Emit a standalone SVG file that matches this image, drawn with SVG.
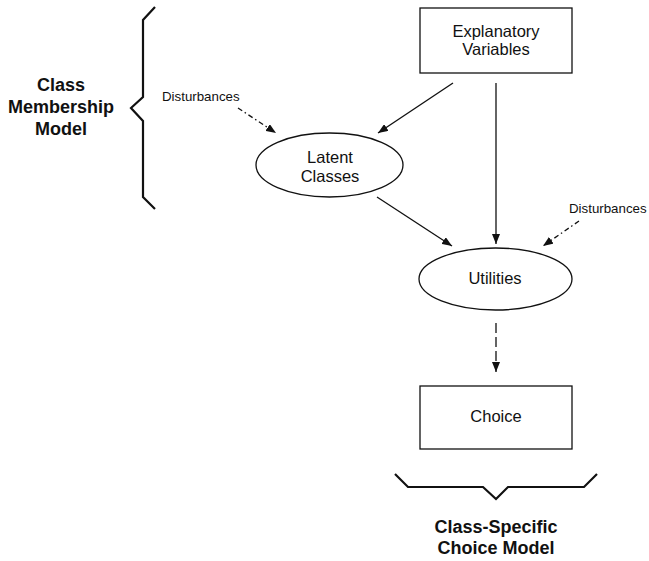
<svg xmlns="http://www.w3.org/2000/svg" width="649" height="561" viewBox="0 0 649 561">
<style>
  .t{font-family:"Liberation Sans",Arial,sans-serif;font-size:16.5px;fill:#111;text-anchor:middle}
  .s{font-family:"Liberation Sans",Arial,sans-serif;font-size:13.3px;fill:#111}
  .b{font-family:"Liberation Sans",Arial,sans-serif;font-size:18px;font-weight:bold;fill:#111;text-anchor:middle}
  .shape{fill:#fff;stroke:#111;stroke-width:1.3}
  .c{stroke:#111;stroke-width:1.3;fill:none}
  .brace{stroke:#111;stroke-width:2.2;fill:none;stroke-linejoin:miter}
</style>
<defs>
  <marker id="ah" viewBox="0 0 10 8" refX="10" refY="4" markerWidth="10" markerHeight="8" markerUnits="userSpaceOnUse" orient="auto">
    <path d="M0,0 L10,4 L0,8 z" fill="#111"/>
  </marker>
</defs>
<rect width="649" height="561" fill="#fff"/>
<g id="connectors">
  <line class="c" x1="453" y1="83" x2="378" y2="133" marker-end="url(#ah)"/>
  <line class="c" x1="496" y1="83" x2="496" y2="244" marker-end="url(#ah)"/>
  <line class="c" x1="377" y1="197" x2="452" y2="246" marker-end="url(#ah)"/>
  <line class="c" x1="238" y1="108" x2="276" y2="133" stroke-dasharray="5,3,1.5,3" marker-end="url(#ah)"/>
  <line class="c" x1="579" y1="221" x2="543" y2="246" stroke-dasharray="5,3,1.5,3" marker-end="url(#ah)"/>
  <line class="c" x1="496" y1="323" x2="496" y2="372" stroke-dasharray="10,4" marker-end="url(#ah)"/>
</g>
<g id="explanatory">
  <rect class="shape" x="420" y="8" width="152" height="65"/>
  <text class="t" x="496" y="37">Explanatory</text>
  <text class="t" x="496" y="55">Variables</text>
</g>
<g id="latent">
  <ellipse class="shape" cx="329.5" cy="165" rx="73.5" ry="32"/>
  <text class="t" x="330" y="163">Latent</text>
  <text class="t" x="330" y="182">Classes</text>
</g>
<g id="utilities">
  <ellipse class="shape" cx="495.5" cy="279" rx="76.5" ry="31"/>
  <text class="t" x="495" y="284">Utilities</text>
</g>
<g id="choice">
  <rect class="shape" x="420" y="386" width="152" height="63"/>
  <text class="t" x="496" y="422">Choice</text>
</g>
<g id="disturbances-left">
  <text class="s" x="162" y="101">Disturbances</text>
</g>
<g id="disturbances-right">
  <text class="s" x="569" y="213">Disturbances</text>
</g>
<g id="class-membership-model">
  <path class="brace" d="M155,7 L143,20 L143,97 L131,108 L143,121 L143,197 L155,209"/>
  <text class="b" x="61" y="91">Class</text>
  <text class="b" x="61" y="113">Membership</text>
  <text class="b" x="61" y="135">Model</text>
</g>
<g id="class-specific-choice-model">
  <path class="brace" d="M395,474 L408,487 L483,487 L496,499 L508,487 L584,487 L597,474"/>
  <text class="b" x="496" y="533">Class-Specific</text>
  <text class="b" x="496" y="554">Choice Model</text>
</g>
</svg>
